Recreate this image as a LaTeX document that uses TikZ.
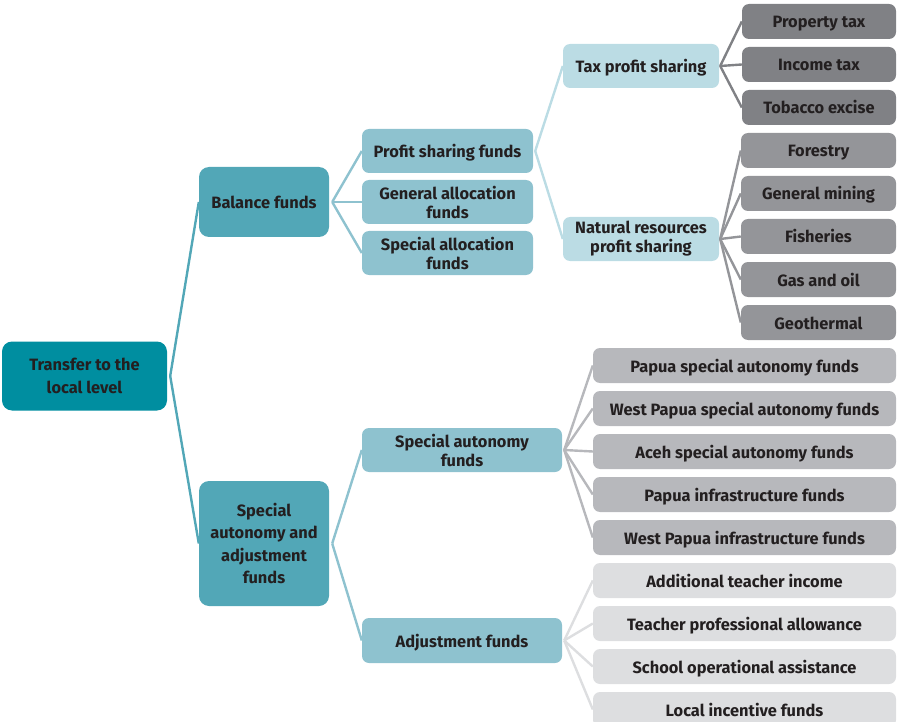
\documentclass[tikz,border=0pt]{standalone}
\usepackage{fontspec}
\setmainfont{Fira Sans}
\definecolor{rootcol}{RGB}{0,142,160}
\definecolor{lvA}{RGB}{82,167,183}
\definecolor{lvB}{RGB}{142,194,207}
\definecolor{lvC}{RGB}{187,220,228}
\definecolor{grA}{RGB}{128,129,133}
\definecolor{grB}{RGB}{148,149,153}
\definecolor{grC}{RGB}{183,184,188}
\definecolor{grD}{RGB}{221,222,224}
\definecolor{txt}{RGB}{35,31,32}
\tikzset{
  box/.style={rounded corners=7pt, inner sep=0pt, align=center, text=txt,
    font=\fontsize{16.4}{19}\selectfont\bfseries},
  oneline/.style={text height=13pt, text depth=0pt},
  bigbox/.style={box, rounded corners=10pt,
    font=\fontsize{16.4}{22.5}\selectfont\bfseries},
  link/.style={line width=2.4pt, line join=round},
  leaf/.style={box, oneline, minimum height=35},
}
\begin{document}
\begin{tikzpicture}[x=1pt,y=-1pt]
\useasboundingbox (0,0) rectangle (897,722);

% level 0 and 1
\node[bigbox, fill=rootcol, minimum width=165, minimum height=69] (root) at (84.5,376) {Transfer to the\\local level};
\node[bigbox, oneline, fill=lvA, minimum width=130, minimum height=70] (bal) at (264,202) {Balance funds};
\node[bigbox, fill=lvA, minimum width=130, minimum height=125] (saa) at (264,543.5) {Special\\autonomy and\\adjustment\\funds};

% level 2
\node[box, oneline, fill=lvB, minimum width=171, minimum height=44] (psf) at (447.5,151) {Profit sharing funds};
\node[box, fill=lvB, minimum width=171, minimum height=44] (gaf) at (447.5,202) {General allocation\\funds};
\node[box, fill=lvB, minimum width=171, minimum height=44] (salf) at (447.5,253) {Special allocation\\funds};
\node[box, fill=lvB, minimum width=200, minimum height=44] (sauf) at (462,450) {Special autonomy\\funds};
\node[box, oneline, fill=lvB, minimum width=200, minimum height=45] (adj) at (462,640.5) {Adjustment funds};

% level 3
\node[box, oneline, fill=lvC, minimum width=156, minimum height=44] (tps) at (641,66) {Tax profit sharing};
\node[box, fill=lvC, minimum width=156, minimum height=44] (nrps) at (641,239) {Natural resources\\profit sharing};

% tax leaves
\node[leaf, fill=grA, minimum width=154] (t1) at (819,21.5) {Property tax};
\node[leaf, fill=grA, minimum width=154] (t2) at (819,64.5) {Income tax};
\node[leaf, fill=grA, minimum width=154] (t3) at (819,107.5) {Tobacco excise};

% natural resource leaves
\node[leaf, fill=grB, minimum width=155] (n1) at (818.5,150.5) {Forestry};
\node[leaf, fill=grB, minimum width=155] (n2) at (818.5,193.5) {General mining};
\node[leaf, fill=grB, minimum width=155] (n3) at (818.5,236.5) {Fisheries};
\node[leaf, fill=grB, minimum width=155] (n4) at (818.5,279.5) {Gas and oil};
\node[leaf, fill=grB, minimum width=155] (n5) at (818.5,322.5) {Geothermal};

% special autonomy leaves
\node[leaf, fill=grC, minimum width=303] (p1) at (744.5,365.5) {Papua special autonomy funds};
\node[leaf, fill=grC, minimum width=303] (p2) at (744.5,408.5) {West Papua special autonomy funds};
\node[leaf, fill=grC, minimum width=303] (p3) at (744.5,451.5) {Aceh special autonomy funds};
\node[leaf, fill=grC, minimum width=303] (p4) at (744.5,494.5) {Papua infrastructure funds};
\node[leaf, fill=grC, minimum width=303] (p5) at (744.5,537.5) {West Papua infrastructure funds};

% adjustment leaves
\node[leaf, fill=grD, minimum width=303] (a1) at (744.5,580.5) {Additional teacher income};
\node[leaf, fill=grD, minimum width=303] (a2) at (744.5,623.5) {Teacher professional allowance};
\node[leaf, fill=grD, minimum width=303] (a3) at (744.5,666.5) {School operational assistance};
\node[leaf, fill=grD, minimum width=303] (a4) at (744.5,709.5) {Local incentive funds};

% fan-out connectors
\foreach \c in {bal,saa}
  \draw[link, draw=lvA] ([xshift=3pt]root.east) -- (\c.west);
\foreach \c in {psf,gaf,salf}
  \draw[link, draw=lvB] ([xshift=3pt]bal.east) -- (\c.west);
\foreach \c in {sauf,adj}
  \draw[link, draw=lvB] ([xshift=3pt]saa.east) -- (\c.west);
\foreach \c in {tps,nrps}
  \draw[link, draw=lvC] ([xshift=2pt]psf.east) -- (\c.west);
\foreach \c in {t1,t2,t3}
  \draw[link, draw=grA] ([xshift=1pt]tps.east) -- (\c.west);
\foreach \c in {n1,n2,n3,n4,n5}
  \draw[link, draw=grB] ([xshift=1pt]nrps.east) -- (\c.west);
\foreach \c in {p1,p2,p3,p4,p5}
  \draw[link, draw=grC] ([xshift=2pt]sauf.east) -- (\c.west);
\foreach \c in {a1,a2,a3,a4}
  \draw[link, draw=grD] ([xshift=2pt]adj.east) -- (\c.west);
\end{tikzpicture}
\end{document}
